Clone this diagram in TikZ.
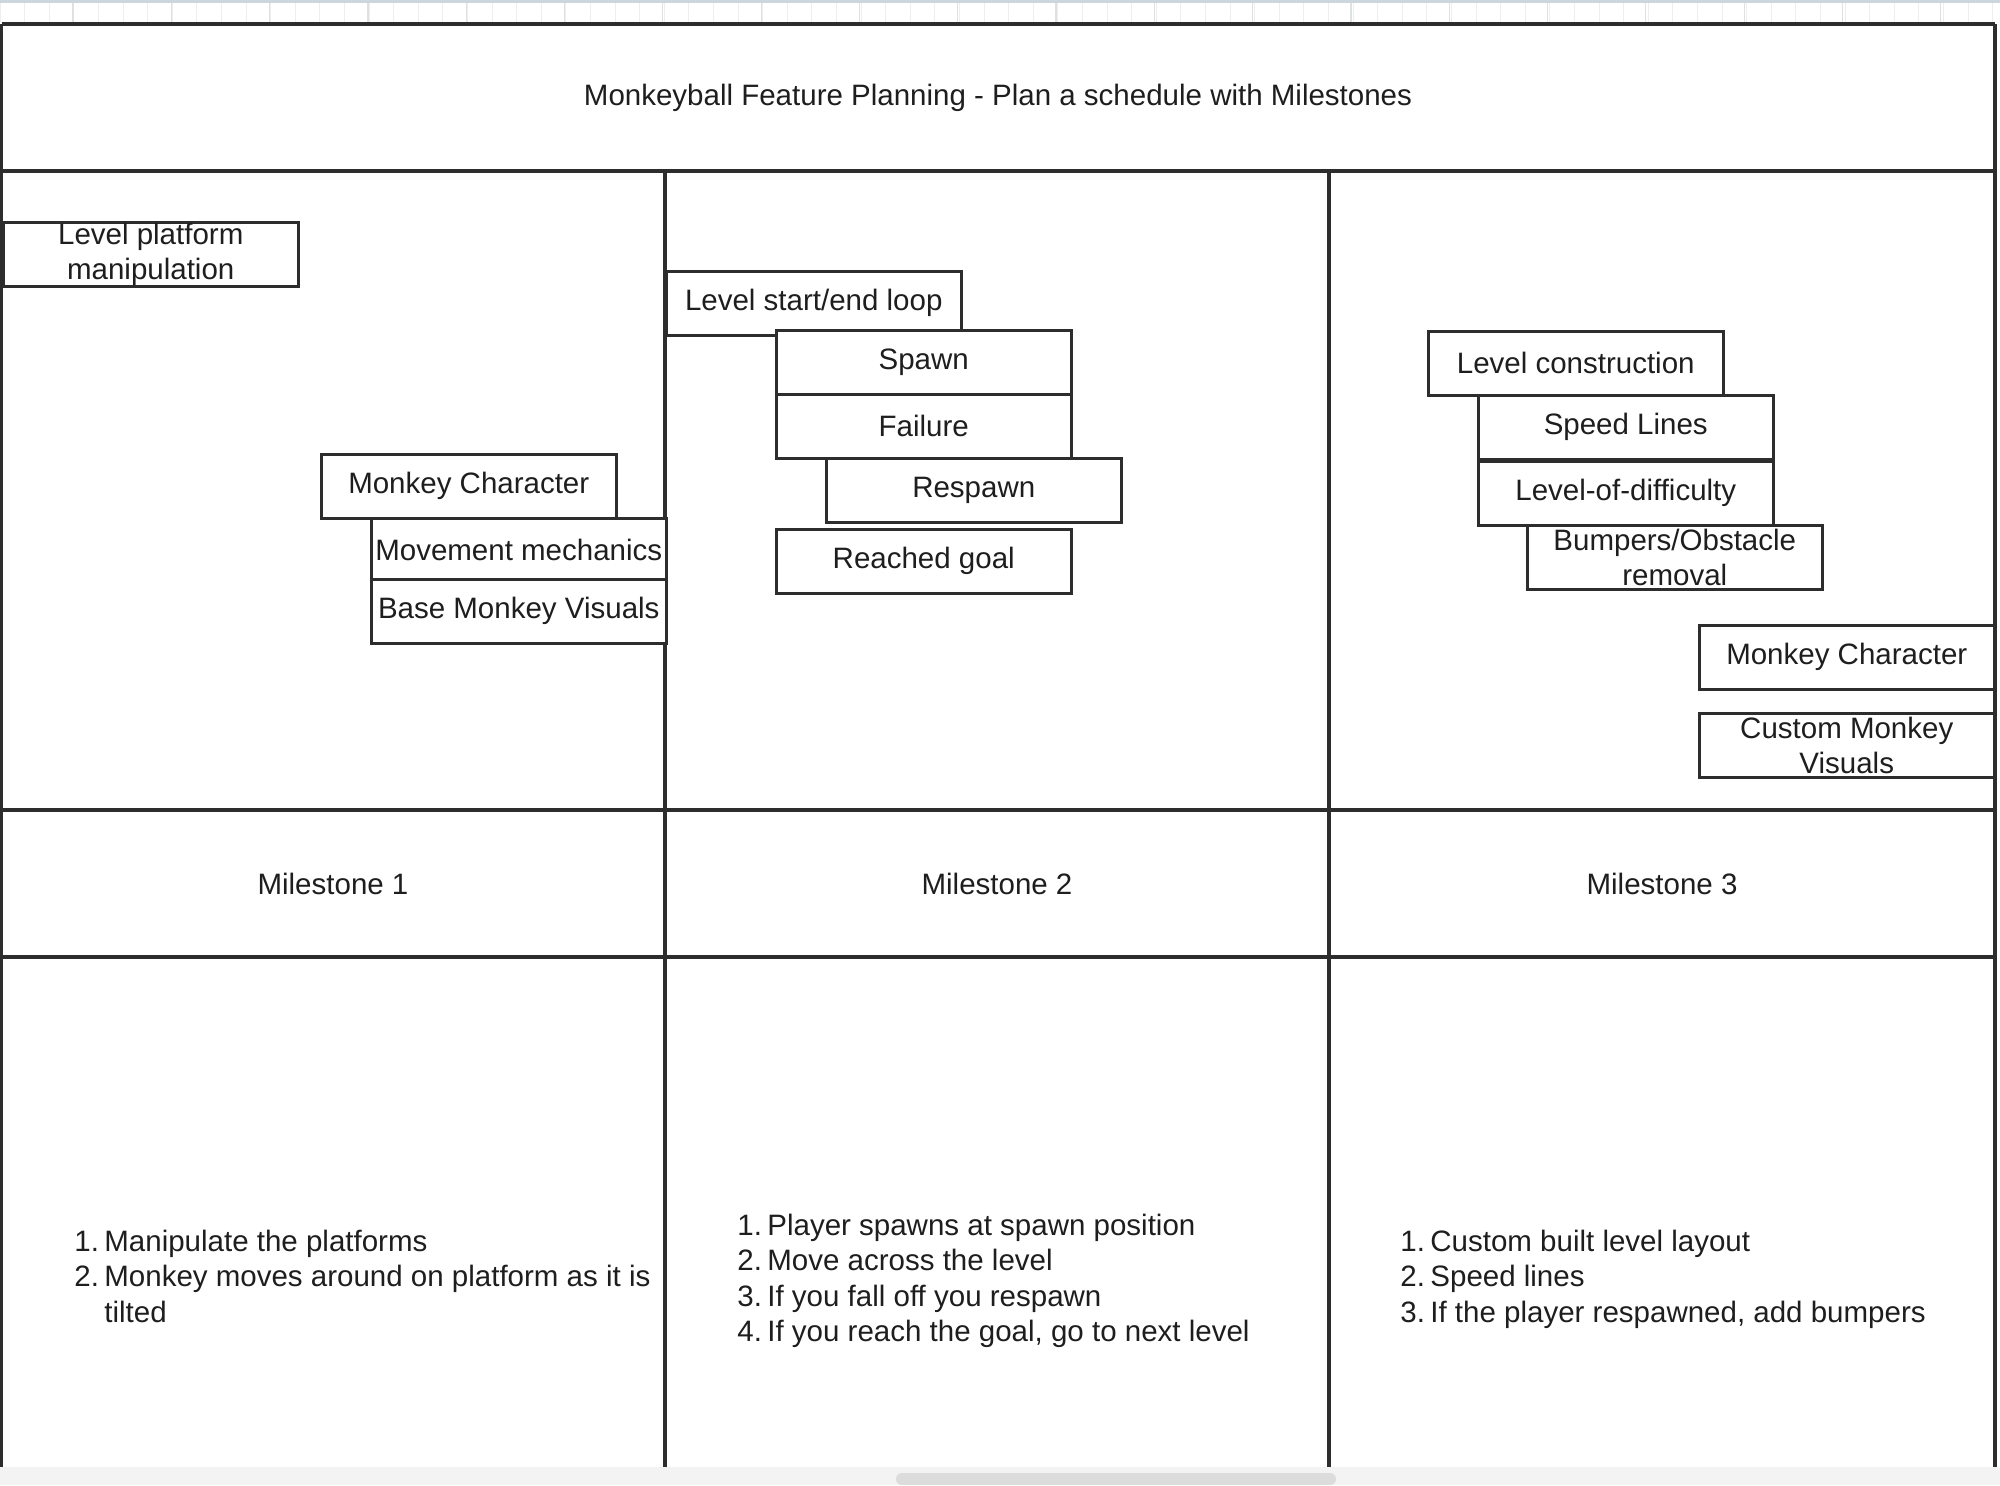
\documentclass[tikz,border=0pt]{standalone}
\usepackage{fontspec}
\setmainfont{Liberation Sans}
\usepackage{tikz}
\usepackage{xcolor}

\definecolor{framegray}{RGB}{45,45,45}
\definecolor{inkgray}{RGB}{30,30,30}
\definecolor{stripblue}{RGB}{205,214,222}
\definecolor{gridfaint}{RGB}{236,238,240}
\definecolor{gridmajor}{RGB}{222,225,228}
\definecolor{barbg}{RGB}{243,243,243}
\definecolor{thumbgray}{RGB}{220,220,220}

\begin{document}
\begin{tikzpicture}[x=0.5pt,y=0.5pt,yscale=-1,xscale=1,
  cell/.style={draw=framegray, line width=1.6pt},
  featbox/.style={draw=framegray, line width=1.25pt, fill=white, rectangle, anchor=north west,
    minimum width=147.5pt, minimum height=32pt, inner sep=0pt, align=center,
    text=inkgray, font=\fontsize{14.75}{17.75}\selectfont},
  lbl/.style={text=inkgray, inner sep=0pt, font=\fontsize{14.75}{17.75}\selectfont},
  steplist/.style={lbl, anchor=base west}]
\useasboundingbox (0,0) rectangle (2000,1485);
\fill[white] (0,0) rectangle (2000,1485);

%Canvas strip at the top
\fill[stripblue] (0,0) rectangle (2000,3);
\foreach \gx in {0,24.6,...,2000} \draw[gridfaint, line width=0.5pt] (\gx,3) -- (\gx,22);
\foreach \gx in {73,171.3,...,2000} \draw[gridmajor, line width=0.6pt] (\gx,3) -- (\gx,22);

%Straight Lines: outer frame
\draw[cell] (1.5,24) -- (1995,24) ;
\draw[cell] (1.5,24) -- (1.5,1467) ;
\draw[cell] (1995,24) -- (1995,1467) ;
%Straight Lines: rows
\draw[cell] (1.5,171) -- (1995,171) ;
\draw[cell] (1.5,810) -- (1995,810) ;
\draw[cell] (1.5,957) -- (1995,957) ;
%Straight Lines: columns
\draw[cell] (665,171) -- (665,1467) ;
\draw[cell] (1329,171) -- (1329,1467) ;

% Text Node
\node[lbl] (title) at (998,98) {Monkeyball Feature Planning - Plan a schedule with Milestones};

%Shape: Rectangle (milestone 1 features)
\node[featbox] (lpm) at (2,221) {Level platform\\manipulation};
\node[featbox] (mc1) at (320,453) {Monkey Character};
\node[featbox] (mm) at (370,517) {Movement mechanics};
\node[featbox] (bmv) at (370,578) {Base Monkey Visuals};

%Shape: Rectangle (milestone 2 features)
\node[featbox] (lsel) at (665,270) {Level start/end loop};
\node[featbox] (spawn) at (775,329) {Spawn};
\node[featbox] (fail) at (775,393) {Failure};
\node[featbox] (resp) at (825,457) {Respawn};
\node[featbox] (goal) at (775,528) {Reached goal};

%Shape: Rectangle (milestone 3 features)
\node[featbox] (lcon) at (1427,330) {Level construction};
\node[featbox] (speed) at (1477,394) {Speed Lines};
\node[featbox] (lod) at (1477,460) {Level-of-difficulty};
\node[featbox] (bump) at (1526,524) {Bumpers/Obstacle\\removal};
\node[featbox] (mc3) at (1698,624) {Monkey Character};
\node[featbox] (cmv) at (1698,712) {Custom Monkey\\Visuals};

% Text Node
\node[lbl] (ms1) at (333,884) {Milestone 1};
\node[lbl] (ms2) at (997,884) {Milestone 2};
\node[lbl] (ms3) at (1662,884) {Milestone 3};

% Text Node
\node[steplist] (list1) at (74,1251) {\begin{tabular}[t]{@{}l@{\hspace{2.7pt}}l@{}}
1. & Manipulate the platforms\\
2. & Monkey moves around on platform as it is\\
 & tilted
\end{tabular}};
\node[steplist] (list2) at (737,1235) {\begin{tabular}[t]{@{}l@{\hspace{2.7pt}}l@{}}
1. & Player spawns at spawn position\\
2. & Move across the level\\
3. & If you fall off you respawn\\
4. & If you reach the goal, go to next level
\end{tabular}};
\node[steplist] (list3) at (1400,1251) {\begin{tabular}[t]{@{}l@{\hspace{2.7pt}}l@{}}
1. & Custom built level layout\\
2. & Speed lines\\
3. & If the player respawned, add bumpers
\end{tabular}};

%Canvas bar at the bottom
\fill[barbg] (0,1467) rectangle (2000,1485);
\fill[thumbgray, rounded corners=3pt] (896,1473) rectangle (1336,1485);

\end{tikzpicture}
\end{document}
